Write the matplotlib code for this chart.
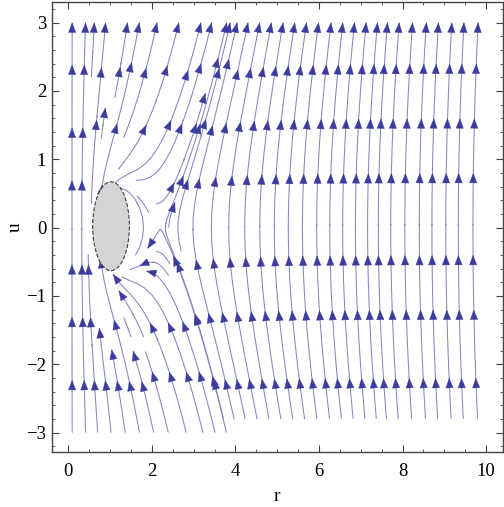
import numpy as np
import matplotlib.pyplot as plt
from matplotlib.patches import Ellipse
from matplotlib.ticker import MultipleLocator

# vector field:  r' = u ,  u' = F(r) + (coef_K / r) * u^2
# F(r) = (r - r_center) * (r - r_saddle) * (coef_D + coef_C / r^2)
r_center = 1.0
r_saddle = 2.2
coef_C = 3.0
coef_D = 0.5
coef_K = 2.0

r_range = [0.08, 10.0]
u_range = [-3.0, 3.0]

# streams entering at the bottom edge (u = -3), left part and right part
bottom_r_left = [0.09, 0.41, 0.70, 1.02, 1.36, 1.70, 2.04, 2.39, 2.82, 3.22, 3.51]
bottom_r_right = [3.79, 4.04, 4.30, 4.58, 4.86, 5.14, 5.42, 5.70, 5.99, 6.29,
                  6.57, 6.85, 7.13, 7.40, 7.64, 7.92, 8.24, 8.57, 8.86, 9.18,
                  9.47, 9.81]
# extra seeds to fill the middle
fill_r = [0.25, 0.55, 0.85, 1.2, 1.5, 1.8, 2.1, 2.4, 2.7]
fill_u = [-2.2, -1.6, -1.1, -0.7, -0.35, 0.0, 0.35, 0.7, 1.1, 1.6, 2.2]

# grey oval round the centre point
oval_center = (1.02, 0.02)
oval_width = 0.88
oval_height = 1.30

# u-levels where the arrow heads sit
arrow_rows = [-2.25, -1.4, -0.55, 0.6, 1.45, 2.3]

x_ticks = [0, 2, 4, 6, 8, 10]
y_ticks = [-3, -2, -1, 0, 1, 2, 3]

line_color = '#8585c5'
head_color = '#3c3c9e'

plt.rcParams['font.family'] = ['Liberation Serif', 'DejaVu Serif']

fig = plt.figure(figsize=(5.04, 5.07), dpi=100)
ax = fig.add_axes([0.1026, 0.109, 0.895, 0.887])
ax.set_xlim(-0.4, 10.4)
ax.set_ylim(-3.28, 3.3)

r = np.linspace(r_range[0], r_range[1], 400)
u = np.linspace(u_range[0], u_range[1], 300)
R, U = np.meshgrid(r, u)
F = (R - r_center) * (R - r_saddle) * (coef_D + coef_C / R**2)
dR = U
dU = F + coef_K / R * U**2

seeds_a = np.array([[x, u_range[0] + 0.001] for x in bottom_r_right])
seeds_b = [[x, u_range[0] + 0.001] for x in bottom_r_left]
for yy in fill_u:
    for xx in fill_r:
        seeds_b.append([xx, yy])
seeds_b = np.array(seeds_b)

# right part: whole streams, bottom to top
strm_a = ax.streamplot(R, U, dR, dU, color=line_color, linewidth=0.75,
                       arrowsize=0.01, start_points=seeds_a,
                       broken_streamlines=False, integration_direction='forward')
# left part: streams break off where they crowd
strm_b = ax.streamplot(R, U, dR, dU, density=(1.3, 1.0), color=line_color,
                       linewidth=0.75, arrowsize=0.01, minlength=0.04,
                       start_points=seeds_b)
strm_a.arrows.set_visible(False)
strm_b.arrows.set_visible(False)

# arrow heads: where a stream crosses one of the rows, and at its end
fig.canvas.draw()
trans = ax.transData
for seg in strm_a.lines.get_segments() + strm_b.lines.get_segments():
    if len(seg) < 3:
        continue
    pix = trans.transform(seg)
    step = np.hypot(*np.diff(pix, axis=0).T)
    s = np.concatenate([[0], np.cumsum(step)])
    if s[-1] < 20:
        continue
    spots = []
    for lev in arrow_rows:
        du = seg[:, 1] - lev
        idx = np.where(du[:-1] * du[1:] < 0)[0]
        spots.extend(idx)
    spots.append(len(seg) - 2)
    spots = sorted(set(spots))
    last = -1e9
    for i in spots:
        if s[i] - last < 28 or s[i] < 14:
            continue
        last = s[i]
        d = pix[i + 1] - pix[i]
        n = np.hypot(*d)
        if n == 0:
            continue
        d = d / n * 6 / 1.389
        ax.annotate('', xy=seg[i + 1], xycoords='data',
                    xytext=(-d[0], -d[1]), textcoords='offset points',
                    arrowprops=dict(arrowstyle='-|>,head_length=0.9,head_width=0.35',
                                    color=head_color, lw=0.3, shrinkA=0, shrinkB=0,
                                    mutation_scale=7.5))

ax.add_patch(Ellipse(oval_center, oval_width, oval_height, facecolor='#d4d4d4',
                     edgecolor='#404040', linestyle='--', linewidth=0.8, zorder=5))

ax.set_xticks(x_ticks)
ax.set_yticks(y_ticks)
ax.xaxis.set_minor_locator(MultipleLocator(0.5))
ax.yaxis.set_minor_locator(MultipleLocator(0.2))
ax.tick_params(which='both', direction='in', top=True, right=True, color='#444444')
ax.tick_params(which='major', length=5, width=0.8, labelsize=13.5)
ax.tick_params(axis='x', which='major', pad=8)
ax.tick_params(axis='y', which='major', pad=4)
ax.tick_params(which='minor', length=2.5, width=0.6)
for sp in ax.spines.values():
    sp.set_color('#444444')
    sp.set_linewidth(1.0)

ax.set_xlabel('r', fontsize=14, labelpad=6)
ax.set_ylabel('u', fontsize=14, labelpad=2)

fig.savefig('out.png', dpi=100)
